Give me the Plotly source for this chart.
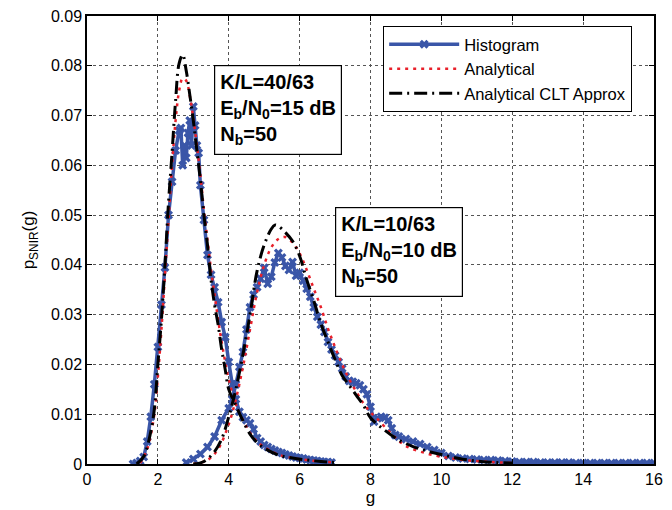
import plotly.graph_objects as go

# ---- Histogram, K/L=40/63 ----
h1_x = [1.3, 1.4, 1.5, 1.6, 1.7, 1.8, 1.9, 2.0, 2.1, 2.2, 2.3, 2.4, 2.5, 2.6, 2.65, 2.7, 2.75, 2.8, 2.85,
        2.9, 2.95, 3.0, 3.05, 3.1, 3.15, 3.2, 3.3, 3.4, 3.5, 3.6, 3.7, 3.8, 3.9, 4.0, 4.1, 4.2, 4.3,
        4.4, 4.5, 4.6, 4.7, 4.8, 4.9, 5.0, 5.1, 5.2, 5.3, 5.4, 5.5, 5.6, 5.7, 5.8, 5.9, 6.0, 6.1,
        6.2, 6.3, 6.4, 6.5, 6.6, 6.7, 6.8, 6.9]
h1_y = [0.0000, 0.0002, 0.0006, 0.0014, 0.0045, 0.0095, 0.0160, 0.0235, 0.0320, 0.0395, 0.0500,
        0.0567, 0.0630, 0.0670, 0.0675, 0.0600, 0.0640, 0.0615, 0.0665, 0.0690, 0.0640, 0.0718,
        0.0680, 0.0640, 0.0625, 0.0560, 0.0490, 0.0420, 0.0380, 0.0355, 0.0325, 0.0285, 0.0255,
        0.0205, 0.0160, 0.0130, 0.0105, 0.0094, 0.0088, 0.0082, 0.0070, 0.0052, 0.0045, 0.0038,
        0.0034, 0.0030, 0.0027, 0.0024, 0.0022, 0.0019, 0.0017, 0.0015, 0.0013, 0.0012, 0.0011,
        0.0009, 0.0008, 0.0007, 0.0006, 0.0005, 0.0004, 0.0004, 0.0003]

# ---- Histogram, K/L=10/63 ----
h2_x = [2.8, 3.0, 3.2, 3.4, 3.6, 3.8, 4.0, 4.1, 4.2, 4.3, 4.4, 4.5, 4.6, 4.7, 4.8, 4.9, 5.0, 5.1,
        5.2, 5.3, 5.4, 5.5, 5.6, 5.7, 5.8, 5.9, 6.0, 6.1, 6.2, 6.3, 6.4, 6.5, 6.6, 6.7, 6.8, 6.9,
        7.0, 7.1, 7.2, 7.3, 7.4, 7.5, 7.6, 7.7, 7.8, 7.9, 8.0, 8.1, 8.2, 8.3, 8.4, 8.5, 8.6, 8.7,
        8.8, 9.0, 9.2, 9.4, 9.6, 9.8, 10.0, 10.2, 10.4, 10.6, 10.8, 11.0, 11.2, 11.4, 11.6, 11.8,
        12.0, 12.2, 12.4, 12.6, 12.8, 13.0, 13.2, 13.4, 13.6, 13.8, 14.0, 14.2, 14.4, 14.6, 14.8,
        15.0, 15.2, 15.4, 15.6, 15.8, 16.0]
h2_y = [0.0003, 0.0010, 0.0020, 0.0034, 0.0055, 0.0088, 0.0112, 0.0130, 0.0160, 0.0195, 0.0225,
        0.0270, 0.0315, 0.0340, 0.0355, 0.0372, 0.0394, 0.0362, 0.0376, 0.0405, 0.0424, 0.0415,
        0.0398, 0.0390, 0.0406, 0.0378, 0.0384, 0.0368, 0.0352, 0.0336, 0.0315, 0.0296, 0.0280,
        0.0265, 0.0245, 0.0230, 0.0218, 0.0205, 0.0192, 0.0176, 0.0167, 0.0165, 0.0162, 0.0158,
        0.0150, 0.0140, 0.0115, 0.0085, 0.0092, 0.0095, 0.0093, 0.0088, 0.0072, 0.0058, 0.0055,
        0.0050, 0.0045, 0.0040, 0.0034, 0.0028, 0.0022, 0.0016, 0.0013, 0.0011, 0.0010, 0.0009,
        0.0008, 0.0008, 0.0007, 0.0006, 0.0005, 0.0004, 0.0004, 0.0004, 0.0003, 0.0003, 0.0003,
        0.0003, 0.0003, 0.0002, 0.0002, 0.0002, 0.0002, 0.0002, 0.0002, 0.0002, 0.0002, 0.0002,
        0.0002, 0.0002, 0.0002]

# ---- Analytical, K/L=40/63 ----
a1_x = [1.5, 1.7, 1.9, 2.0, 2.1, 2.2, 2.3, 2.4, 2.5, 2.6, 2.7, 2.8, 2.9, 3.0, 3.1, 3.2, 3.3, 3.4,
        3.5, 3.6, 3.7, 3.8, 3.9, 4.0, 4.2, 4.4, 4.6, 4.8, 5.0, 5.4, 5.8, 6.2, 6.6, 7.0]
a1_y = [0.0002, 0.0030, 0.0100, 0.0175, 0.0270, 0.0380, 0.0490, 0.0600, 0.0690, 0.0750, 0.0775,
        0.0770, 0.0740, 0.0695, 0.0640, 0.0580, 0.0510, 0.0450, 0.0390, 0.0340, 0.0290, 0.0245,
        0.0205, 0.0170, 0.0120, 0.0088, 0.0063, 0.0045, 0.0034, 0.0019, 0.0012, 0.0008, 0.0005,
        0.0003]

# ---- Analytical CLT approx, K/L=40/63 ----
c1_x = [1.4, 1.6, 1.8, 1.9, 2.0, 2.1, 2.2, 2.3, 2.4, 2.5, 2.6, 2.7, 2.8, 2.9, 3.0, 3.1, 3.2, 3.3,
        3.4, 3.5, 3.6, 3.7, 3.8, 3.9, 4.0, 4.2, 4.4, 4.6, 4.8, 5.0, 5.4, 5.8, 6.2, 6.6, 7.0]
c1_y = [0.0000, 0.0015, 0.0065, 0.0110, 0.0200, 0.0290, 0.0400, 0.0525, 0.0625, 0.0730, 0.0805,
        0.0822, 0.0790, 0.0742, 0.0690, 0.0630, 0.0570, 0.0500, 0.0440, 0.0370, 0.0320, 0.0280,
        0.0230, 0.0190, 0.0150, 0.0118, 0.0087, 0.0060, 0.0043, 0.0032, 0.0018, 0.0012, 0.0008,
        0.0005, 0.0003]

# ---- Analytical, K/L=10/63 ----
a2_x = [3.0, 3.4, 3.7, 4.0, 4.2, 4.4, 4.6, 4.8, 5.0, 5.2, 5.4, 5.6, 5.8, 6.0, 6.2, 6.4, 6.6, 6.8,
        7.0, 7.2, 7.4, 7.6, 7.8, 8.0, 8.2, 8.6, 9.0, 9.6, 10.2, 10.8, 11.4, 12.0]
a2_y = [0.0000, 0.0008, 0.0030, 0.0080, 0.0130, 0.0195, 0.0270, 0.0345, 0.0400, 0.0435, 0.0452,
        0.0456, 0.0445, 0.0423, 0.0390, 0.0352, 0.0315, 0.0272, 0.0235, 0.0200, 0.0170, 0.0145,
        0.0122, 0.0104, 0.0090, 0.0060, 0.0036, 0.0021, 0.0012, 0.0007, 0.0004, 0.0002]

# ---- Analytical CLT approx, K/L=10/63 ----
c2_x = [3.0, 3.3, 3.6, 3.8, 4.0, 4.2, 4.4, 4.6, 4.8, 5.0, 5.2, 5.3, 5.4, 5.6, 5.8, 6.0, 6.2, 6.4,
        6.6, 6.8, 7.0, 7.2, 7.4, 7.6, 7.8, 8.0, 8.4, 8.8, 9.2, 9.6, 10.0, 10.5, 11.0, 11.5, 12.0]
c2_y = [0.0000, 0.0005, 0.0025, 0.0050, 0.0095, 0.0150, 0.0220, 0.0300, 0.0388, 0.0440, 0.0472,
        0.0480, 0.0478, 0.0465, 0.0448, 0.0418, 0.0370, 0.0328, 0.0282, 0.0245, 0.0210, 0.0178,
        0.0158, 0.0138, 0.0118, 0.0093, 0.0068, 0.0048, 0.0035, 0.0026, 0.0019, 0.0011, 0.0006,
        0.0003, 0.0002]

x_ticks = [0, 2, 4, 6, 8, 10, 12, 14, 16]
y_ticks = [0, 0.01, 0.02, 0.03, 0.04, 0.05, 0.06, 0.07, 0.08, 0.09]
y_tick_labels = ["0", "0.01", "0.02", "0.03", "0.04", "0.05", "0.06", "0.07", "0.08", "0.09"]

box1_text = "K/L=40/63<br>E<sub>b</sub>/N<sub>0</sub>=15 dB<br>N<sub>b</sub>=50"
box2_text = "K/L=10/63<br>E<sub>b</sub>/N<sub>0</sub>=10 dB<br>N<sub>b</sub>=50"

BLUE = "#3a56a8"
RED = "#e8202a"
FONT = "Liberation Sans"

fig = go.Figure()

for i, (hx, hy) in enumerate([(h1_x, h1_y), (h2_x, h2_y)]):
    fig.add_trace(go.Scatter(
        x=hx, y=hy, mode="lines+markers", name="Histogram",
        legendgroup="hist", showlegend=(i == 0),
        line=dict(color=BLUE, width=3.5),
        marker=dict(symbol="x", size=8, color=BLUE)))

for i, (ax_, ay_) in enumerate([(a1_x, a1_y), (a2_x, a2_y)]):
    fig.add_trace(go.Scatter(
        x=ax_, y=ay_, mode="lines", name="Analytical",
        legendgroup="ana", showlegend=(i == 0),
        line=dict(color=RED, width=2.5, dash="3px,5px", shape="spline")))

for i, (cx, cy) in enumerate([(c1_x, c1_y), (c2_x, c2_y)]):
    fig.add_trace(go.Scatter(
        x=cx, y=cy, mode="lines", name="Analytical CLT Approx",
        legendgroup="clt", showlegend=(i == 0),
        line=dict(color="black", width=3, dash="13px,5px,2px,5px", shape="spline")))

axis_common = dict(
    showline=True, linecolor="black", linewidth=1.5, mirror="ticks",
    ticks="inside", ticklen=5, tickcolor="black", tickwidth=1,
    showgrid=True, gridcolor="#555555", gridwidth=1, griddash="dot",
    zeroline=False, automargin=False,
    tickfont=dict(family=FONT, size=16, color="black"),
)

fig.update_xaxes(range=[0, 16], tickvals=x_ticks,
                 title=dict(text="g", font=dict(family=FONT, size=17, color="black"), standoff=0),
                 **axis_common)
fig.update_yaxes(range=[0, 0.09], tickvals=y_ticks, ticktext=y_tick_labels,
                 title=dict(text="p<sub>SNIR</sub>(g)", font=dict(family=FONT, size=17, color="black"),
                            standoff=12),
                 **axis_common)

fig.add_annotation(x=3.58, y=0.0802, xref="x", yref="y", xanchor="left", yanchor="top",
                   text=box1_text, showarrow=False, align="left",
                   font=dict(family=FONT, size=20, color="black", weight="bold"),
                   bordercolor="black", borderwidth=1.2, borderpad=5, bgcolor="white")
fig.add_annotation(x=7.0, y=0.0516, xref="x", yref="y", xanchor="left", yanchor="top",
                   text=box2_text, showarrow=False, align="left",
                   font=dict(family=FONT, size=20, color="black", weight="bold"),
                   bordercolor="black", borderwidth=1.2, borderpad=5, bgcolor="white")

fig.update_layout(
    width=672, height=510,
    margin=dict(l=87, r=18, t=16, b=46),
    paper_bgcolor="white", plot_bgcolor="white",
    font=dict(family=FONT, size=16, color="black"),
    legend=dict(x=0.522, y=0.978, xanchor="left", yanchor="top",
                bordercolor="black", borderwidth=1.2, bgcolor="white",
                font=dict(family=FONT, size=16.5, color="black"),
                itemwidth=70, tracegroupgap=0),
    showlegend=True,
)

fig.write_html("out.html", config={"displayModeBar": False},
               post_script="document.body.style.margin='0';")
